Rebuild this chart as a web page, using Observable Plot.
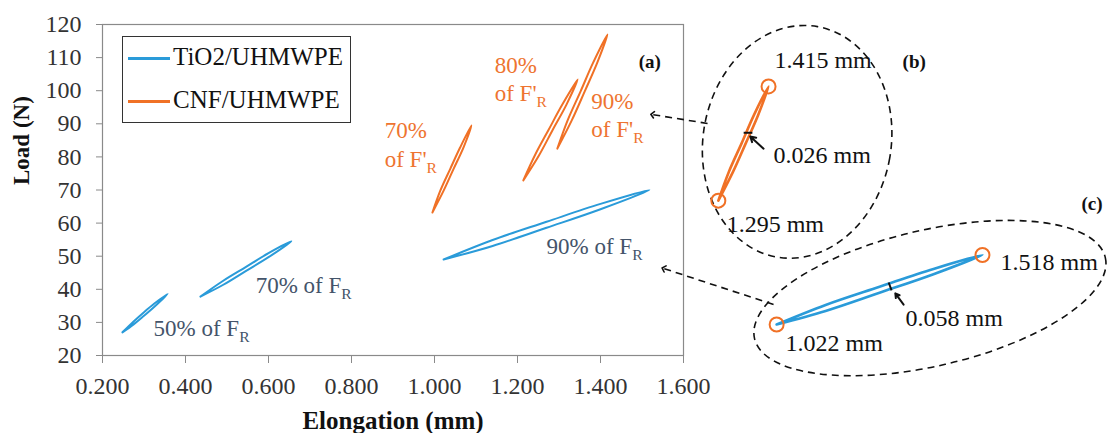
<!DOCTYPE html>
<html>
<head>
<meta charset="utf-8">
<script src="https://cdn.jsdelivr.net/npm/d3@7"></script>
<script src="https://cdn.jsdelivr.net/npm/@observablehq/plot@0.6"></script>
<style>
  html, body { margin: 0; padding: 0; background: white; }
  #wrap { position: relative; width: 1110px; height: 433px; overflow: hidden; }
  #chart svg, #chart svg text { font-family: "Liberation Serif", serif !important; }
  #legend { position: absolute; left: 122px; top: 36px; width: 227px; height: 85px; border: 1px solid #333; background: white; font-family: "Liberation Serif", serif; font-size: 25px; color: #111; }
  #legend .sw { position: absolute; left: 5px; width: 42px; height: 2.5px; }
  #legend .lb { position: absolute; left: 50px; line-height: 25px; white-space: nowrap; }
</style>
</head>
<body>
<div id="wrap"><div id="chart"></div><div id="legend"></div></div>
<script>
// ---- series names & colours ----
const seriesNames = ["TiO2/UHMWPE", "CNF/UHMWPE"];
const seriesColors = ["#2A9BD9", "#F07126"];
const labelColors = ["#44546A", "#EE7430"];

// ---- axis ticks ----
const xTicks = [0.2, 0.4, 0.6, 0.8, 1.0, 1.2, 1.4, 1.6];
const yTicks = [20, 30, 40, 50, 60, 70, 80, 90, 100, 110, 120];

// ---- hysteresis loops: [elongation (mm), load (N)], loading then unloading ----
const tio2_50 = [[0.248,27.0],[0.275,29.4],[0.300,32.0],[0.325,34.7],[0.357,38.6],[0.325,35.7],[0.300,33.1],[0.275,30.3],[0.248,27.0]];
const tio2_70 = [[0.436,37.8],[0.490,41.3],[0.545,45.5],[0.600,49.7],[0.655,54.5],[0.600,50.9],[0.545,46.7],[0.490,42.5],[0.436,37.8]];
const tio2_90 = [[1.022,49.0],[1.140,53.1],[1.270,58.6],[1.400,64.2],[1.518,70.0],[1.400,65.8],[1.270,60.4],[1.140,54.9],[1.022,49.0]];
const cnf_70 = [[0.995,63.2],[1.022,69.8],[1.046,76.4],[1.070,82.9],[1.089,89.5],[1.062,82.9],[1.038,76.4],[1.014,69.8],[0.995,63.2]];
const cnf_80 = [[1.214,72.9],[1.252,80.5],[1.285,88.2],[1.318,95.8],[1.345,103.4],[1.308,95.8],[1.275,88.2],[1.242,80.5],[1.214,72.9]];
const cnf_90 = [[1.296,82.5],[1.331,91.1],[1.362,99.8],[1.392,108.4],[1.417,117.0],[1.382,108.4],[1.352,99.8],[1.321,91.1],[1.296,82.5]];

// ---- labels (text, x, y at baseline start) ----
const loopLabels = [
  {text: "50% of F_R", x: 0.323, y: 26.0, s: 0},
  {text: "70% of F_R", x: 0.569, y: 39.0, s: 0},
  {text: "90% of F_R", x: 1.270, y: 50.8, s: 0},
  {text: "70%", x: 0.880, y: 85.6, s: 1},
  {text: "of F'_R", x: 0.880, y: 76.8, s: 1},
  {text: "80%", x: 1.145, y: 105.2, s: 1},
  {text: "of F'_R", x: 1.145, y: 97.0, s: 1},
  {text: "90%", x: 1.378, y: 94.6, s: 1},
  {text: "of F'_R", x: 1.378, y: 85.9, s: 1}
];
const panelLabels = [
  {text: "(a)", x: 1.492, y: 107.0},
  {text: "(b)", x: 2.128, y: 107.0},
  {text: "(c)", x: 2.559, y: 64.1}
];
const insetLabels = [
  {text: "1.415 mm", x: 1.819, y: 107.0},
  {text: "0.026 mm", x: 1.817, y: 78.3},
  {text: "1.295 mm", x: 1.704, y: 57.2},
  {text: "1.518 mm", x: 2.364, y: 45.7},
  {text: "0.058 mm", x: 2.135, y: 28.8},
  {text: "1.022 mm", x: 1.846, y: 21.5}
];

// ---- annotation geometry ----
const insetB = {dx: 161, dy: 52};
const insetC = {dx: 333, dy: 65};
const ellipses = [
  {x: 1.875, y: 84.4, rx: 94, ry: 117, rotate: 10},
  {x: 2.195, y: 37.2, rx: 180, ry: 68, rotate: -13}
];
const calloutArrows = [
  {x1: 1.658, y1: 90.1, x2: 1.525, y2: 92.8},
  {x1: 1.817, y1: 35.4, x2: 1.552, y2: 46.3}
];
const gapTickB = [{x1: 1.357, y1: 103.0, x2: 1.378, y2: 103.0}];
const gapArrowB = [{x1: 1.405, y1: 98.2, x2: 1.373, y2: 101.9}];
const gapTickC = [{x1: 1.292, y1: 61.7, x2: 1.299, y2: 59.3}];
const gapArrowC = [{x1: 1.328, y1: 55.0, x2: 1.308, y2: 58.4}];

const FONT = "Liberation Serif";
const X = d => d[0], Y = d => d[1];
const loopMark = (data, color, extra = {}) =>
  Plot.line(data, {x: X, y: Y, stroke: color, strokeWidth: 2, strokeLinejoin: "round", curve: "catmull-rom", ...extra});

function ellipseMark(index, scales) {
  const g = d3.create("svg:g")
    .attr("fill", "none").attr("stroke", "#111")
    .attr("stroke-width", 1.6).attr("stroke-dasharray", "7,5");
  for (const e of ellipses) {
    g.append("ellipse")
      .attr("transform", `translate(${scales.x(e.x)},${scales.y(e.y)}) rotate(${e.rotate})`)
      .attr("rx", e.rx).attr("ry", e.ry);
  }
  return g.node();
}

const blue = seriesColors[0], orange = seriesColors[1];

const plot = Plot.plot({
  width: 1110,
  height: 433,
  marginLeft: 102,
  marginRight: 427,
  marginTop: 24,
  marginBottom: 78,
  style: {fontFamily: "'Liberation Serif', serif", fontSize: "24px", color: "#333", background: "white", overflow: "visible"},
  x: {domain: [0.2, 1.6], axis: null},
  y: {domain: [20, 120], axis: null},
  marks: [
    Plot.frame({stroke: "#8a8a8a", strokeWidth: 1.2}),
    Plot.axisY({ticks: yTicks, tickSize: 6, tickPadding: 15, stroke: "#8a8a8a", fill: "#333", label: null, tickFormat: d => d, fontSize: 24, fontFamily: FONT}),
    Plot.axisX({ticks: xTicks, tickSize: 8, tickPadding: 13, stroke: "#8a8a8a", fill: "#333", label: null, tickFormat: d3.format(".3f"), fontSize: 24, fontFamily: FONT}),
    Plot.text([0], {frameAnchor: "left", dx: -81, dy: -5, rotate: -90, text: () => "Load (N)", fontWeight: "bold", fontSize: 23, fill: "#111", fontFamily: FONT}),
    Plot.text([0], {frameAnchor: "bottom", dy: 73, lineAnchor: "bottom", text: () => "Elongation (mm)", fontWeight: "bold", fontSize: 25, fill: "#111", fontFamily: FONT}),

    // main loops
    loopMark(tio2_50, blue),
    loopMark(tio2_70, blue),
    loopMark(tio2_90, blue),
    loopMark(cnf_70, orange),
    loopMark(cnf_80, orange),
    loopMark(cnf_90, orange),

    Plot.text(loopLabels, {x: "x", y: "y", text: "text", fill: d => labelColors[d.s], textAnchor: "start", lineAnchor: "bottom", fontSize: 23, fontFamily: FONT}),
    Plot.text(panelLabels, {x: "x", y: "y", text: "text", fill: "#111", textAnchor: "start", lineAnchor: "bottom", fontSize: 19, fontWeight: "bold", fontFamily: FONT}),

    // callouts
    ellipseMark,
    Plot.link(calloutArrows, {x1: "x1", y1: "y1", x2: "x2", y2: "y2", stroke: "#111", strokeWidth: 1.6, strokeDasharray: "7,5", markerEnd: "arrow"}),

    // inset (b): CNF 90% loop magnified
    loopMark(cnf_90, orange, {strokeWidth: 2.6, ...insetB}),
    Plot.dot([cnf_90[0], cnf_90[4]], {x: X, y: Y, r: 7, stroke: orange, strokeWidth: 2, fill: "none", ...insetB}),
    Plot.link(gapTickB, {x1: "x1", y1: "y1", x2: "x2", y2: "y2", stroke: "#111", strokeWidth: 2, ...insetB}),
    Plot.arrow(gapArrowB, {x1: "x1", y1: "y1", x2: "x2", y2: "y2", stroke: "#111", strokeWidth: 2, headLength: 9, ...insetB}),

    // inset (c): TiO2 90% loop magnified
    loopMark(tio2_90, blue, {strokeWidth: 2.6, ...insetC}),
    Plot.dot([tio2_90[0], tio2_90[4]], {x: X, y: Y, r: 7, stroke: orange, strokeWidth: 2, fill: "none", ...insetC}),
    Plot.link(gapTickC, {x1: "x1", y1: "y1", x2: "x2", y2: "y2", stroke: "#111", strokeWidth: 2, ...insetC}),
    Plot.arrow(gapArrowC, {x1: "x1", y1: "y1", x2: "x2", y2: "y2", stroke: "#111", strokeWidth: 2, headLength: 9, ...insetC}),

    Plot.text(insetLabels, {x: "x", y: "y", text: "text", fill: "#111", textAnchor: "start", lineAnchor: "bottom", fontSize: 24, fontFamily: FONT})
  ]
});

// subscripts: "F_R" -> F with subscript R
const svgns = "http://www.w3.org/2000/svg";
plot.querySelectorAll("text").forEach(t => {
  if (t.childElementCount === 0 && t.textContent.includes("_")) {
    const [a, b] = t.textContent.split("_");
    t.textContent = a;
    const ts = document.createElementNS(svgns, "tspan");
    ts.setAttribute("dy", "0.38em");
    ts.setAttribute("font-size", "0.68em");
    ts.textContent = b;
    t.appendChild(ts);
  }
});
// solid arrowheads on dashed callouts
plot.querySelectorAll("marker").forEach(m => m.setAttribute("stroke-dasharray", "none"));

document.getElementById("chart").appendChild(plot);

// legend
const legend = d3.select("#legend");
const rowTops = [7, 50];
seriesNames.forEach((name, i) => {
  legend.append("div").attr("class", "sw").style("top", (rowTops[i] + 13) + "px").style("background", seriesColors[i]);
  legend.append("div").attr("class", "lb").style("top", rowTops[i] + "px").text(name);
});
</script>
</body>
</html>
